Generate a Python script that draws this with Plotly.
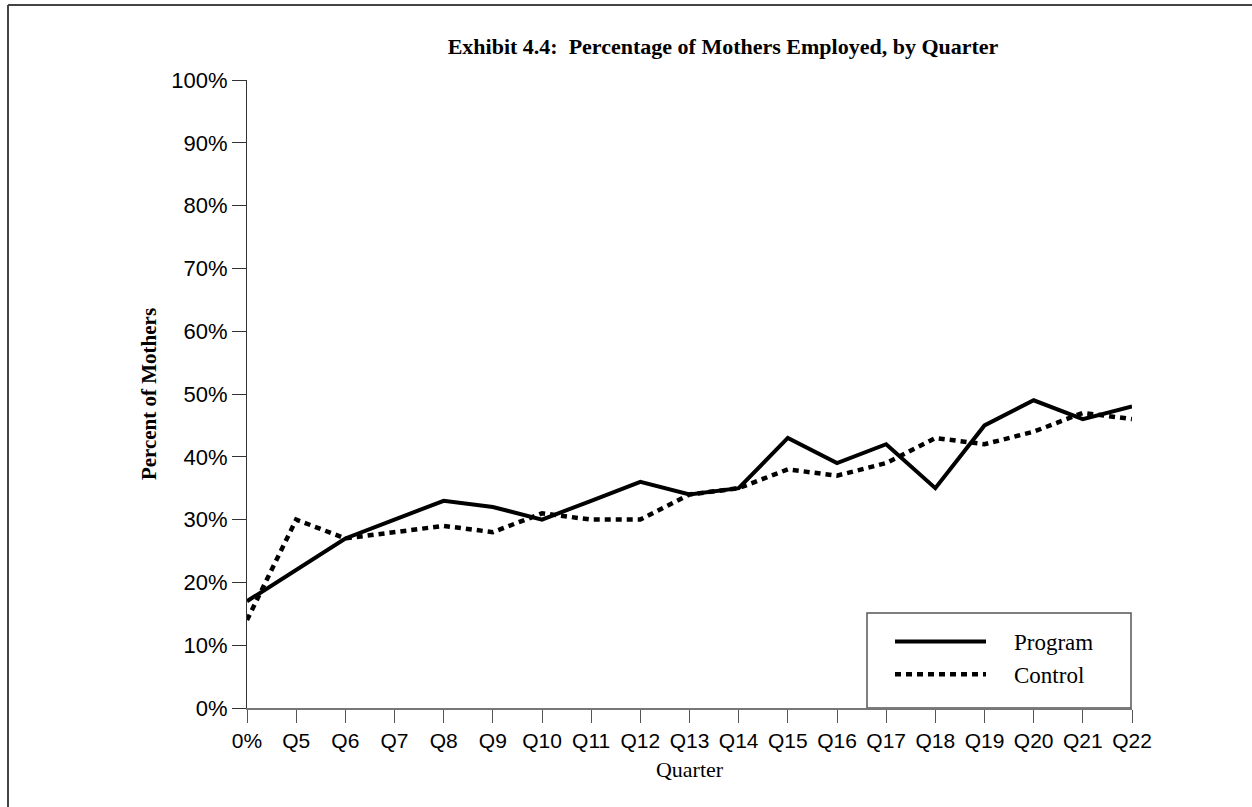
import plotly.graph_objects as go

quarters = ["0%", "Q5", "Q6", "Q7", "Q8", "Q9", "Q10", "Q11", "Q12", "Q13", "Q14",
            "Q15", "Q16", "Q17", "Q18", "Q19", "Q20", "Q21", "Q22"]
program = [17, 22, 27, 30, 33, 32, 30, 33, 36, 34, 35, 43, 39, 42, 35, 45, 49, 46, 48]
control = [14, 30, 27, 28, 29, 28, 31, 30, 30, 34, 35, 38, 37, 39, 43, 42, 44, 47, 46]
y_ticks = [0, 10, 20, 30, 40, 50, 60, 70, 80, 90, 100]

serif = "Liberation Serif, Times New Roman, serif"
sans = "Liberation Sans, Arial, sans-serif"

W, H = 1252, 807
L, R, T, B = 247, 120, 80, 99
PW, PH = W - L - R, H - T - B


def px_x(px):
    return (px - L) / PW


def px_y(py):
    return (H - B - py) / PH


gap = "&nbsp;" * 4

fig = go.Figure()
fig.add_trace(go.Scatter(x=quarters, y=program, name=gap + "Program", mode="lines",
                         line=dict(color="black", width=4)))
fig.add_trace(go.Scatter(x=quarters, y=control, name=gap + "Control", mode="lines",
                         line=dict(color="black", width=4.5, dash="6px,5px")))

fig.update_layout(
    width=W, height=H,
    margin=dict(l=L, r=R, t=T, b=B),
    paper_bgcolor="white", plot_bgcolor="white",
    title=dict(text="<b>Exhibit 4.4:  Percentage of Mothers Employed, by Quarter</b>",
               x=723 / W, xref="container", xanchor="center", y=1 - 46 / H, yanchor="middle",
               font=dict(family=serif, size=22, color="black")),
    xaxis=dict(type="category", range=[0, 18], showgrid=False, showline=True,
               linecolor="#777", linewidth=2, ticks="outside", ticklen=13, tickcolor="#555",
               tickwidth=1, tickfont=dict(family=sans, size=21, color="black"),
               title=dict(text="Quarter", font=dict(family=serif, size=22, color="black"),
                          standoff=10),
               zeroline=False),
    yaxis=dict(range=[0, 100], tickvals=y_ticks, ticktext=[f"{v}%" for v in y_ticks],
               showgrid=False, showline=True, linecolor="#333", linewidth=1,
               ticks="outside", ticklen=14, tickcolor="#333",
               tickfont=dict(family=sans, size=22, color="black"),
               title=dict(text="<b>Percent of Mothers</b>",
                          font=dict(family=serif, size=21, color="black"), standoff=8),
               zeroline=False),
    legend=dict(x=px_x(890), xanchor="left", y=px_y(620), yanchor="top",
                borderwidth=0, bgcolor="rgba(0,0,0,0)",
                font=dict(family=serif, size=23, color="black"),
                itemwidth=91),
    showlegend=True,
)

# legend frame
fig.add_shape(type="rect", xref="paper", yref="paper",
              x0=px_x(867), x1=px_x(1131), y0=0, y1=px_y(613),
              line=dict(color="#555", width=1.5), fillcolor="white", layer="below")

# outer frame (top and left edges visible in the reference)
fig.add_shape(type="line", xref="paper", yref="paper",
              x0=px_x(8), x1=px_x(1300), y0=px_y(5), y1=px_y(5),
              line=dict(color="#444", width=2))
fig.add_shape(type="line", xref="paper", yref="paper",
              x0=px_x(8), x1=px_x(8), y0=px_y(5), y1=px_y(850),
              line=dict(color="#444", width=2))

fig.write_html("out.html", post_script="document.body.style.margin='0';",
               config={"displayModeBar": False})
